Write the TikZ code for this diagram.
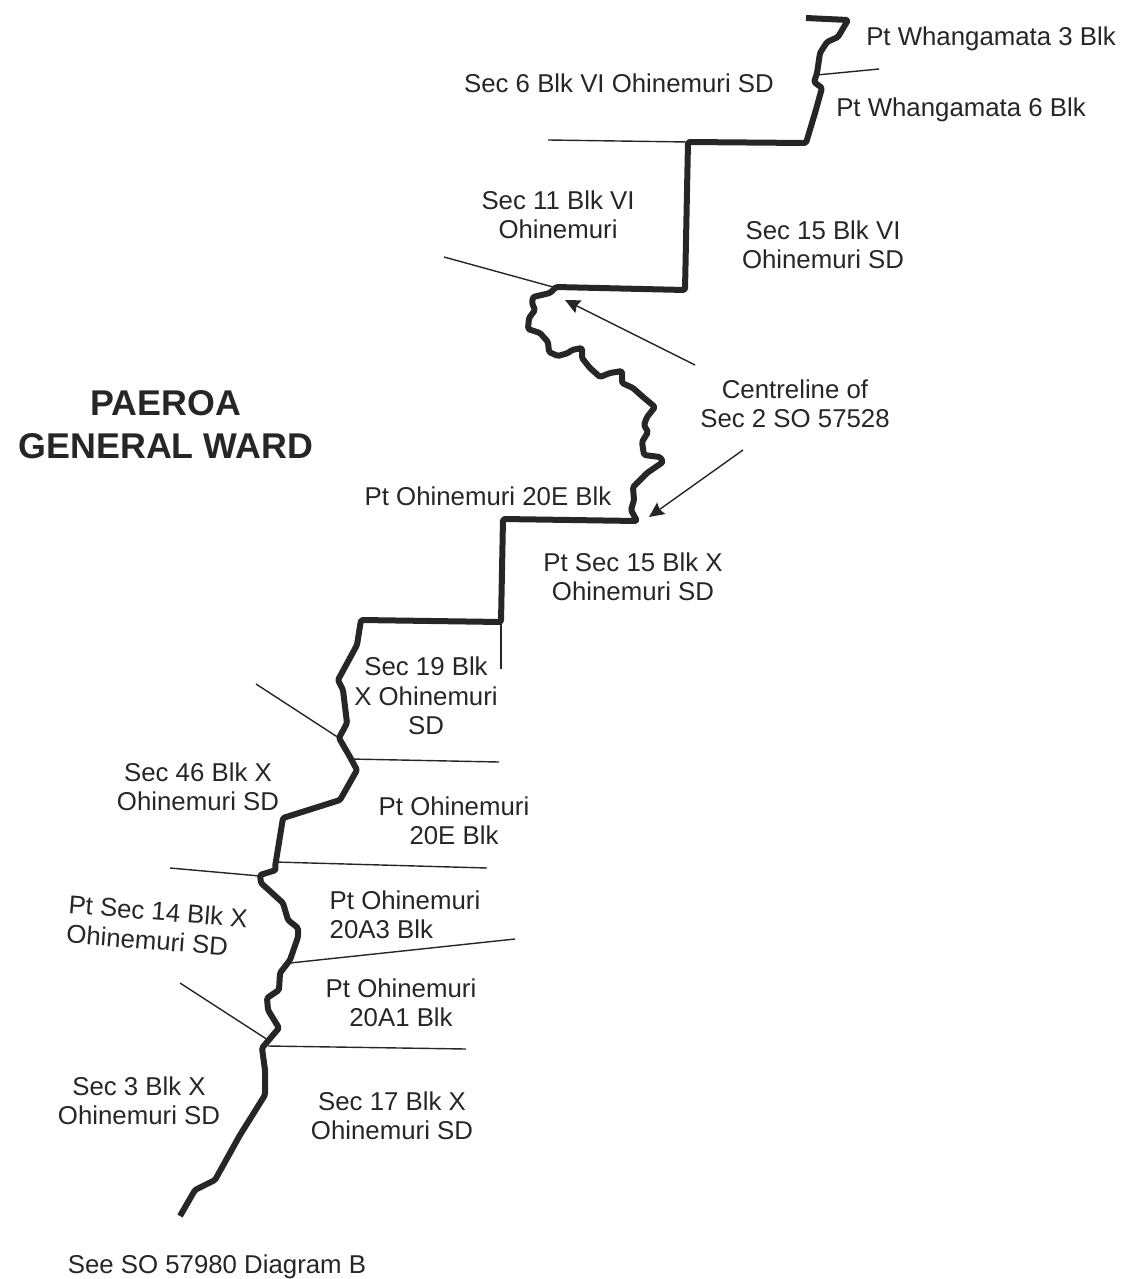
\documentclass[tikz,border=0pt]{standalone}
\usepackage{fontspec}
\usetikzlibrary{arrows.meta}
\setmainfont{Liberation Sans}
\begin{document}
\begin{tikzpicture}[x=1pt,y=-1pt,
  lbl/.style={inner sep=0pt,align=center,text=black!85,font=\fontsize{25.8}{29.5}\selectfont},
  ttl/.style={inner sep=0pt,align=center,text=black!85,font=\fontsize{35.8}{43}\selectfont\bfseries},
  bdy/.style={line width=6pt,draw=black!85,line join=round,line cap=butt,rounded corners=1.5pt},
  thin/.style={line width=1.4pt,draw=black!85},
  ptr/.style={line width=1.4pt,draw=black!85,-{Stealth[length=15pt,width=14pt,inset=2pt]}}]
\useasboundingbox (0,0) rectangle (1125,1279);
\draw[bdy] (806,18) -- (848,20) -- (838,37) -- (827,42) -- (820,53) -- (817,73) -- (814,82) -- (822,88) -- (815,113) -- (806,143)
 -- (688,142) -- (685,290) -- (556,287) -- (550,293) -- (533,297) -- (532,303) -- (535,310) -- (529,318) -- (528,329) -- (540,333) -- (548,342) -- (549,352) -- (558,356) -- (568,353) -- (572,350) -- (582,348) -- (582,358) -- (590,368) -- (600,377) -- (610,373) -- (622,371) -- (622,383) -- (633,388) -- (643,397) -- (655,407) -- (647,417) -- (644,425) -- (648,432) -- (642,442) -- (644,455) -- (660,457) -- (663,462) -- (647,473) -- (633,487) -- (634,500) -- (631,510) -- (637,521)
 -- (503,519) -- (501,622) -- (361,620) -- (357,645) -- (338,680) -- (343,690) -- (347,723) -- (339,738) -- (350,757) -- (357,770) -- (340,800) -- (283,818) -- (275,867) -- (276,870) -- (260,875) -- (261,883) -- (283,903) -- (288,920) -- (298,928) -- (298,937) -- (290,960) -- (280,973) -- (279,990) -- (267,998) -- (268,1010) -- (279,1028) -- (262,1048) -- (265,1070) -- (265,1095) -- (240,1135) -- (215,1180) -- (195,1190) -- (180,1216);
\draw[thin] (548,140) -- (688,142);
\draw[thin] (444,257) -- (553,287);
\draw[thin] (817,75) -- (879,69);
\draw[thin] (501,622) -- (501,669);
\draw[thin] (256,684) -- (339,738);
\draw[thin] (350,759) -- (499,762);
\draw[thin] (275,862) -- (487,868);
\draw[thin] (170,868) -- (260,876);
\draw[thin] (290,963) -- (515,939);
\draw[thin] (180,983) -- (268,1040);
\draw[thin] (268,1046) -- (466,1049);
\coordinate (a1s) at (695,365); \coordinate (a1e) at (565,300);
\coordinate (a2s) at (743,450); \coordinate (a2e) at (649,517);
\draw[ptr] (a1s) -- (a1e);
\draw[ptr] (a2s) -- (a2e);
\node[lbl] (n1) at (991,39) {Pt Whangamata 3 Blk};
\node[lbl] (n2) at (961,110) {Pt Whangamata 6 Blk};
\node[lbl] (n3) at (619,83) {Sec 6 Blk VI Ohinemuri SD};
\node[lbl] (n4) at (558,215) {Sec 11 Blk VI\\Ohinemuri};
\node[lbl] (n5) at (823,245) {Sec 15 Blk VI\\Ohinemuri SD};
\node[lbl] (n6) at (795,404) {Centreline of\\Sec 2 SO 57528};
\node[ttl] (n7) at (166,425) {PAEROA\\GENERAL WARD};
\node[lbl] (n8) at (488,496) {Pt Ohinemuri 20E Blk};
\node[lbl] (n9) at (633,577) {Pt Sec 15 Blk X\\Ohinemuri SD};
\node[lbl] (n10) at (426,696) {Sec 19 Blk\\X Ohinemuri\\SD};
\node[lbl] (n11) at (198,787) {Sec 46 Blk X\\Ohinemuri SD};
\node[lbl] (n12) at (454,821) {Pt Ohinemuri\\20E Blk};
\node[lbl,align=left] (n13) at (405,915) {Pt Ohinemuri\\20A3 Blk};
\node[lbl,rotate=-4.5,align=left] (n14) at (157,926) {Pt Sec 14 Blk X\\Ohinemuri SD};
\node[lbl] (n15) at (401,1003) {Pt Ohinemuri\\20A1 Blk};
\node[lbl] (n16) at (139,1101) {Sec 3 Blk X\\Ohinemuri SD};
\node[lbl] (n17) at (392,1116) {Sec 17 Blk X\\Ohinemuri SD};
\node[lbl] (n18) at (217,1267) {See SO 57980 Diagram B};
\end{tikzpicture}
\end{document}
